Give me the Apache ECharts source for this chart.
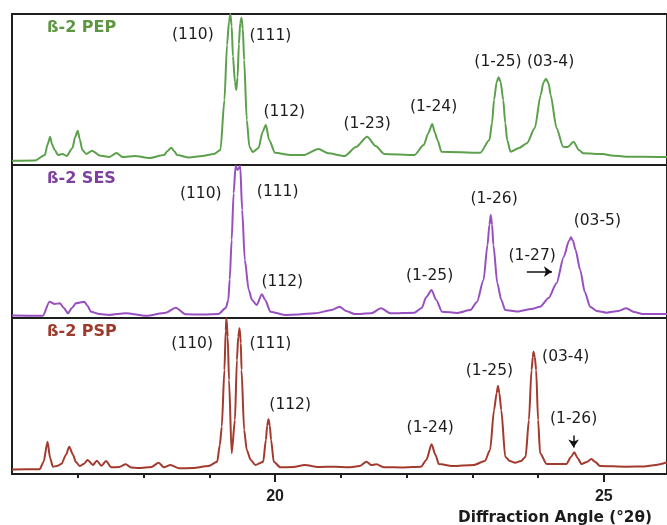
<!DOCTYPE html>
<html>
<head>
<meta charset="utf-8">
<script src="https://cdn.jsdelivr.net/npm/echarts@6/dist/echarts.min.js"></script>
<style>
  html, body { margin: 0; padding: 0; background: #ffffff; }
  #chart { width: 667px; height: 525px; }
</style>
</head>
<body>
<div id="chart"></div>
<script>
// Powder XRD patterns of three β-2 polymorph samples, [°2θ, relative intensity (%)]
const pepPattern = [
  [16.00, 2.8], [16.35, 3.0], [16.50, 6.6], [16.54, 13.5], [16.58, 18.7], [16.61, 13.5],
  [16.65, 9.9], [16.70, 6.6], [16.77, 7.3], [16.83, 6.0], [16.92, 11.3], [16.96, 18.5],
  [17.00, 22.7], [17.03, 17.0], [17.07, 9.9], [17.13, 7.3], [17.22, 9.5], [17.33, 6.3],
  [17.48, 5.3], [17.59, 7.9], [17.68, 5.3], [17.87, 6.0], [18.09, 4.6], [18.31, 6.6],
  [18.37, 9.5], [18.42, 11.5], [18.47, 9.0], [18.51, 6.6], [18.69, 5.0], [18.89, 6.0],
  [19.07, 7.3], [19.17, 9.9], [19.23, 43.0], [19.27, 79.5], [19.30, 95.0], [19.32, 100],
  [19.34, 92.0], [19.36, 72.0], [19.39, 55.0], [19.41, 49.7], [19.43, 58.0], [19.45, 80.0],
  [19.47, 94.0], [19.49, 97.5], [19.51, 90.0], [19.53, 69.5], [19.57, 29.8], [19.61, 12.1],
  [19.66, 8.6], [19.75, 11.3], [19.81, 21.9], [19.86, 26.5], [19.91, 16.6], [20.00, 8.1],
  [20.25, 6.6], [20.43, 6.6], [20.66, 10.6], [20.81, 7.7], [21.06, 6.0], [21.23, 11.9],
  [21.40, 18.7], [21.53, 12.6], [21.66, 7.3], [22.12, 6.6], [22.26, 13.2], [22.33, 21.0],
  [22.39, 27.2], [22.43, 21.5], [22.47, 16.6], [22.53, 8.8], [23.12, 8.1], [23.26, 16.6],
  [23.30, 28.0], [23.33, 43.0], [23.37, 55.0], [23.40, 58.1], [23.43, 55.0], [23.47, 43.0],
  [23.50, 28.0], [23.53, 16.6], [23.58, 8.8], [23.71, 11.3], [23.83, 14.4], [23.95, 24.5],
  [24.04, 46.4], [24.08, 54.5], [24.12, 57.2], [24.16, 54.0], [24.19, 46.4], [24.28, 24.5],
  [24.38, 12.1], [24.45, 11.9], [24.54, 15.4], [24.62, 9.9], [24.69, 7.7], [24.99, 7.3],
  [25.11, 6.3], [25.34, 5.5], [25.84, 5.3], [25.96, 5.3]
];
const sesPattern = [
  [16.00, 1.6], [16.47, 1.5], [16.57, 10.7], [16.65, 9.2], [16.73, 9.6], [16.79, 6.5],
  [16.85, 3.1], [16.91, 6.5], [16.97, 9.6], [17.10, 10.7], [17.15, 7.8], [17.20, 4.1],
  [17.33, 2.6], [17.48, 2.0], [17.73, 3.1], [18.04, 1.5], [18.34, 3.5], [18.49, 6.7],
  [18.64, 2.4], [18.92, 2.3], [19.14, 2.6], [19.25, 6.5], [19.29, 11.8], [19.31, 25.0],
  [19.34, 51.0], [19.37, 81.5], [19.40, 99.5], [19.43, 96.7], [19.47, 99.5], [19.50, 70.6],
  [19.54, 37.9], [19.60, 18.3], [19.65, 11.8], [19.72, 8.5], [19.80, 15.5], [19.85, 11.8],
  [19.93, 4.1], [20.15, 2.0], [20.35, 2.3], [20.61, 3.1], [20.86, 5.2], [20.98, 7.4],
  [21.08, 4.6], [21.21, 2.6], [21.46, 3.1], [21.61, 6.3], [21.76, 3.1], [22.12, 3.5],
  [22.23, 6.5], [22.30, 13.7], [22.38, 18.3], [22.45, 11.8], [22.54, 4.1], [22.77, 3.3],
  [22.97, 5.2], [23.07, 10.5], [23.17, 24.8], [23.23, 47.7], [23.26, 61.0], [23.28, 67.3],
  [23.30, 61.0], [23.32, 47.7], [23.38, 22.7], [23.44, 11.8], [23.50, 5.2], [23.68, 4.2],
  [23.90, 5.9], [24.03, 7.4], [24.16, 13.1], [24.28, 22.7], [24.39, 40.1], [24.47, 50.5],
  [24.50, 52.7], [24.53, 50.5], [24.57, 44.4], [24.64, 31.4], [24.71, 17.0], [24.79, 7.4],
  [24.89, 4.6], [25.04, 3.5], [25.22, 4.6], [25.34, 6.3], [25.46, 3.9], [25.59, 2.6],
  [25.96, 2.6]
];
const pspPattern = [
  [16.00, 2.9], [16.42, 3.0], [16.48, 7.7], [16.54, 20.7], [16.58, 10.3], [16.62, 4.7],
  [16.68, 5.1], [16.75, 6.4], [16.82, 12.2], [16.87, 17.5], [16.93, 12.2], [16.97, 7.7],
  [17.03, 5.1], [17.09, 6.4], [17.15, 9.0], [17.23, 5.8], [17.29, 8.5], [17.36, 5.3],
  [17.43, 8.3], [17.51, 4.3], [17.63, 4.5], [17.73, 6.2], [17.81, 4.2], [17.93, 3.8],
  [18.12, 4.5], [18.23, 7.2], [18.31, 4.3], [18.41, 5.8], [18.54, 3.7], [18.75, 3.8],
  [18.99, 5.1], [19.12, 7.9], [19.16, 18.6], [19.19, 30.3], [19.23, 66.7], [19.25, 92.0],
  [19.26, 100], [19.28, 88.0], [19.30, 60.3], [19.34, 13.3], [19.39, 34.6], [19.42, 73.1],
  [19.44, 88.0], [19.46, 93.4], [19.48, 84.0], [19.49, 66.7], [19.53, 28.2], [19.57, 15.4],
  [19.63, 9.0], [19.70, 5.8], [19.82, 7.9], [19.86, 21.8], [19.88, 31.0], [19.90, 35.1],
  [19.92, 31.0], [19.94, 21.8], [19.98, 7.9], [20.08, 4.3], [20.28, 4.5], [20.45, 5.8],
  [20.66, 4.5], [20.91, 4.7], [21.11, 4.3], [21.29, 5.1], [21.39, 7.9], [21.46, 5.8],
  [21.54, 6.2], [21.66, 4.3], [21.94, 4.2], [22.22, 4.7], [22.30, 9.0], [22.38, 19.0],
  [22.44, 12.2], [22.49, 6.4], [22.70, 5.1], [23.02, 5.8], [23.19, 8.3], [23.27, 15.4],
  [23.33, 41.0], [23.37, 52.0], [23.39, 56.4], [23.41, 52.0], [23.44, 41.0], [23.50, 11.1],
  [23.57, 8.3], [23.65, 7.2], [23.74, 8.3], [23.81, 11.1], [23.86, 34.6], [23.90, 66.7],
  [23.92, 75.0], [23.93, 78.4], [23.95, 75.0], [23.97, 66.7], [24.00, 34.6], [24.03, 13.3],
  [24.13, 6.4], [24.43, 6.4], [24.50, 10.9], [24.55, 13.9], [24.60, 10.3], [24.66, 6.4],
  [24.74, 7.7], [24.81, 9.6], [24.87, 7.7], [24.94, 5.1], [25.34, 4.7], [25.61, 4.8],
  [25.79, 5.8], [25.96, 7.6]
];

// Reflection indices: [label, °2θ, intensity at which the label sits]
const pepReflections = [
  ['(110)', 18.75, 86.1], ['(111)', 19.93, 85.4], ['(112)', 20.14, 35.1],
  ['(1-23)', 21.40, 27.2], ['(1-24)', 22.41, 38.4], ['(1-25)', 23.39, 68.2], ['(03-4)', 24.19, 68.2]
];
const sesReflections = [
  ['(110)', 18.87, 81.0], ['(111)', 20.04, 82.4], ['(112)', 20.11, 23.5],
  ['(1-25)', 22.35, 27.5], ['(1-26)', 23.33, 77.8], ['(1-27)', 23.91, 40.5], ['(03-5)', 24.90, 63.4]
];
const pspReflections = [
  ['(110)', 18.74, 83.3], ['(111)', 19.93, 83.3], ['(112)', 20.23, 44.2],
  ['(1-24)', 22.36, 29.5], ['(1-25)', 23.26, 66.0], ['(03-4)', 24.42, 75.0], ['(1-26)', 24.54, 35.3]
];
// Pointer arrows: [from °2θ, from intensity, to °2θ, to intensity]
const sesArrows = [[23.83, 30.3, 24.21, 30.3]];
const pspArrows = [[24.54, 24.6, 24.54, 17.0]];

const sampleNames = ['ß-2 PEP', 'ß-2 SES', 'ß-2 PSP'];
const majorTicks = [20, 25];
const minorTicks = [17, 18, 19, 21, 22, 23, 24];
const xMin = 16, xMax = 25.96;

const lineColors = ['#5ca04c', '#9850c0', '#a33a2e'];
const nameColors = ['#5e9642', '#7e409e', '#9c3a2b'];
const patterns = [pepPattern, sesPattern, pspPattern];
const reflections = [pepReflections, sesReflections, pspReflections];
const arrows = [[], sesArrows, pspArrows];

const gridTops = [14, 165, 318];
const gridHeights = [151, 153, 156];

const chart = echarts.init(document.getElementById('chart'), null, { renderer: 'canvas' });

const grids = gridTops.map((t, i) => ({
  left: 12, right: -4, top: t, height: gridHeights[i],
  show: true, borderColor: '#1e1e1e', borderWidth: 2, backgroundColor: 'transparent'
}));

const xAxes = [];
patterns.forEach((_, i) => {
  xAxes.push({
    type: 'value', gridIndex: i, min: xMin, max: xMax, position: 'bottom',
    axisLine: { show: false }, splitLine: { show: false },
    axisTick: i === 2
      ? { show: true, customValues: majorTicks, length: 8, lineStyle: { color: '#1e1e1e', width: 2 } }
      : { show: false },
    axisLabel: i === 2
      ? { show: true, customValues: majorTicks, margin: 15, color: '#1e1e1e',
          fontFamily: 'Liberation Sans', fontWeight: 'bold', fontSize: 16 }
      : { show: false }
  });
});
// minor ticks on the bottom axis
xAxes.push({
  type: 'value', gridIndex: 2, min: xMin, max: xMax, position: 'bottom',
  axisLine: { show: false }, splitLine: { show: false },
  axisTick: { show: true, customValues: minorTicks, length: 4, lineStyle: { color: '#1e1e1e', width: 2 } },
  axisLabel: { show: false }
});

const yAxes = patterns.map((_, i) => ({
  type: 'value', gridIndex: i, min: 0, max: 100, show: false
}));

const series = patterns.map((data, i) => ({
  type: 'line',
  xAxisIndex: i, yAxisIndex: i,
  data: data,
  showSymbol: false,
  smooth: 0.25,
  smoothMonotone: 'x',
  clip: true,
  lineStyle: { color: lineColors[i], width: 2, join: 'round' },
  markPoint: {
    symbol: 'circle', symbolSize: 0, silent: true,
    label: {
      show: true, position: 'inside', color: '#1c1c1c',
      fontFamily: 'DejaVu Sans', fontSize: 15.5,
      formatter: p => p.name
    },
    data: reflections[i].map(r => ({ name: r[0], coord: [r[1], r[2]] }))
  },
  markLine: {
    silent: true, symbol: ['none', 'arrow'], symbolSize: 8,
    label: { show: false },
    lineStyle: { color: '#111', width: 1.5, type: 'solid' },
    data: arrows[i].map(a => [{ coord: [a[0], a[1]] }, { coord: [a[2], a[3]] }])
  }
}));

const titles = sampleNames.map((n, i) => ({
  text: n, left: 47, top: gridTops[i] + 6, padding: 0,
  textStyle: { color: nameColors[i], fontFamily: 'DejaVu Sans', fontWeight: 'bold', fontSize: 16 }
}));
titles.push({
  text: 'Diffraction Angle (°2θ)', right: 15, top: 511, padding: 0,
  textStyle: { color: '#1c1c1c', fontFamily: 'DejaVu Sans', fontWeight: 'bold', fontSize: 15.3 }
});

chart.setOption({
  backgroundColor: '#ffffff',
  animation: false,
  title: titles,
  grid: grids,
  xAxis: xAxes,
  yAxis: yAxes,
  series: series
});
</script>
</body>
</html>
